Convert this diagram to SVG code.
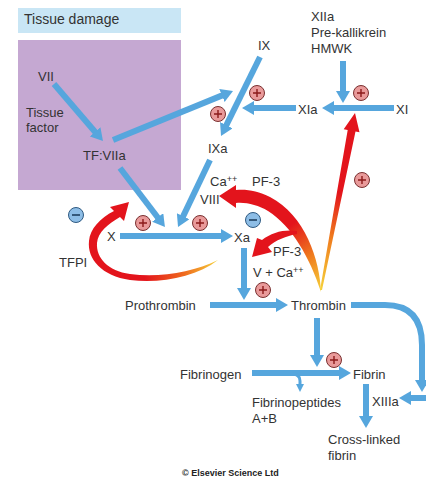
<svg xmlns="http://www.w3.org/2000/svg" width="426" height="477" viewBox="0 0 426 477">
<style>
  text { font-family: "Liberation Sans", Arial, sans-serif; font-size: 13px; fill: #333; }
  .b { stroke: #56a6dd; stroke-width: 6; fill: none; marker-end: url(#ah); }
  .thin { stroke: #56a6dd; stroke-width: 3; fill: none; marker-end: url(#ahs); }
  .sup { font-size: 9px; }
</style>
<defs>
  <marker id="ah" viewBox="0 0 12 14" markerWidth="12" markerHeight="14" markerUnits="userSpaceOnUse" refX="3" refY="7" orient="auto">
    <path d="M0,0 L12,7 L0,14 z" fill="#56a6dd"/>
  </marker>
  <marker id="ahs" viewBox="0 0 8 8" markerWidth="8" markerHeight="8" markerUnits="userSpaceOnUse" refX="2" refY="4" orient="auto">
    <path d="M0,0 L8,4 L0,8 z" fill="#56a6dd"/>
  </marker>
  <linearGradient id="gTFPI" gradientUnits="userSpaceOnUse" x1="88" y1="250" x2="218" y2="262">
    <stop offset="0" stop-color="#e3141c"/>
    <stop offset="0.45" stop-color="#e3141c"/>
    <stop offset="0.75" stop-color="#ef6a1e"/>
    <stop offset="1" stop-color="#f6d23a"/>
  </linearGradient>
  <linearGradient id="gVIII" gradientUnits="userSpaceOnUse" x1="321" y1="292" x2="250" y2="196">
    <stop offset="0" stop-color="#f6d23a"/>
    <stop offset="0.3" stop-color="#ef7a1e"/>
    <stop offset="0.6" stop-color="#e3141c"/>
    <stop offset="1" stop-color="#e3141c"/>
  </linearGradient>
  <linearGradient id="gXI" gradientUnits="userSpaceOnUse" x1="321" y1="290" x2="355" y2="113">
    <stop offset="0" stop-color="#f6d23a"/>
    <stop offset="0.3" stop-color="#ef7a1e"/>
    <stop offset="0.55" stop-color="#e3141c"/>
    <stop offset="1" stop-color="#e3141c"/>
  </linearGradient>
  <g id="pl">
    <circle r="7.5" fill="#e99a9a" stroke="#7a3030" stroke-width="1"/>
    <path d="M-4,0 H4 M0,-4 V4" stroke="#8b1a1a" stroke-width="1.4" fill="none"/>
  </g>
  <g id="mi">
    <circle r="7.5" fill="#8dbde6" stroke="#2f5a82" stroke-width="1"/>
    <path d="M-4,0 H4" stroke="#1f3f60" stroke-width="1.6" fill="none"/>
  </g>
</defs>

<g id="tissue-damage">
  <rect x="18" y="8" width="163" height="25" fill="#c9e6f5"/>
  <text x="24" y="24" style="font-size:14px">Tissue damage</text>
</g>
<g id="tissue-box">
  <rect x="18" y="40" width="163" height="150" fill="#c5a8d2"/>
</g>

<g id="connectors">
  <line class="b" x1="54" y1="84" x2="97.1" y2="134.2"/>
  <line class="b" x1="113" y1="140" x2="224.7" y2="94.4"/>
  <line class="b" x1="260" y1="57" x2="225" y2="127.9"/>
  <line class="b" x1="296" y1="108" x2="251" y2="108"/>
  <line class="b" x1="394" y1="108" x2="331" y2="108"/>
  <line class="b" x1="343" y1="61" x2="343" y2="94"/>
  <line class="b" x1="120" y1="168" x2="159.5" y2="219.8"/>
  <line class="b" x1="210" y1="160" x2="181.9" y2="218.9"/>
  <line class="b" x1="120" y1="236" x2="224" y2="236"/>
  <line class="b" x1="244" y1="248" x2="244" y2="291"/>
  <line class="b" x1="210" y1="305" x2="279" y2="305"/>
  <path class="b" d="M351,305 H385 Q422,305 422,345 V383"/>
  <line class="b" x1="430" y1="398" x2="408" y2="398"/>
  <line class="b" x1="317" y1="318" x2="317" y2="358"/>
  <line class="b" x1="252" y1="373" x2="342" y2="373"/>
  <line class="b" x1="366" y1="384" x2="366" y2="419"/>
  <path class="thin" d="M292,374 Q300,374 300,381 V386"/>

  <path d="M218,260 C196,277 160,284 130,280 C102,276 87,259 89,241 C90,229 100,218 114,211 L110,207 L129,202 L124,221 L120,217 C108,224 98,232 97,243 C96,258 108,271 130,274 C160,278 193,272 218,260 Z" fill="url(#gTFPI)"/>
  <path d="M321,292 C320,260 305,215 270,197 C258,191 247,189 236,190 L236,185 L219,196 L236,208 L236,203 C246,202 258,205 268,211 C292,226 310,258 321,292 Z" fill="url(#gVIII)"/>
  <path d="M320,290 L347.7,130 L343.7,129.2 L355,113 L359.5,132.2 L355.5,131.5 L322,290 Z" fill="url(#gXI)"/>
  <path d="M297,231 C285,229 272,232 262,240 L257,238 L252,257 L272,252 L268,247 C276,240 286,236 297,234 Z" fill="#e3141c"/>
</g>

<g id="signs">
  <use href="#pl" x="218" y="114"/>
  <use href="#pl" x="257" y="93"/>
  <use href="#pl" x="361" y="93"/>
  <use href="#pl" x="362" y="180"/>
  <use href="#pl" x="143" y="223"/>
  <use href="#pl" x="200" y="223"/>
  <use href="#pl" x="263" y="290"/>
  <use href="#pl" x="334" y="360"/>
  <use href="#mi" x="76" y="215"/>
  <use href="#mi" x="253" y="220"/>
</g>

<g id="n-VII"><text x="38" y="81">VII</text></g>
<g id="n-TF"><text x="26" y="117">Tissue</text><text x="26" y="132">factor</text></g>
<g id="n-TFVIIa"><text x="83" y="160">TF:VIIa</text></g>
<g id="n-IX"><text x="258" y="50">IX</text></g>
<g id="n-IXa"><text x="208" y="153">IXa</text></g>
<g id="n-XIIa-top"><text x="311" y="21">XIIa</text><text x="311" y="37">Pre-kallikrein</text><text x="311" y="53">HMWK</text></g>
<g id="n-XIa"><text x="298" y="114">XIa</text></g>
<g id="n-XI"><text x="396" y="114">XI</text></g>
<g id="n-cofactors1"><text x="210" y="186">Ca<tspan class="sup" dy="-4">++</tspan></text><text x="252" y="186">PF-3</text><text x="200" y="204">VIII</text></g>
<g id="n-X"><text x="107" y="241">X</text></g>
<g id="n-Xa"><text x="234" y="242">Xa</text></g>
<g id="n-TFPI"><text x="59" y="267">TFPI</text></g>
<g id="n-cofactors2"><text x="273" y="256">PF-3</text><text x="253" y="277">V + Ca<tspan class="sup" dy="-4">++</tspan></text></g>
<g id="n-Prothrombin"><text x="125" y="310">Prothrombin</text></g>
<g id="n-Thrombin"><text x="291" y="310">Thrombin</text></g>
<g id="n-Fibrinogen"><text x="180" y="379">Fibrinogen</text></g>
<g id="n-Fibrin"><text x="353" y="379">Fibrin</text></g>
<g id="n-Fibrinopeptides"><text x="252" y="407">Fibrinopeptides</text><text x="252" y="423">A+B</text></g>
<g id="n-XIIIa"><text x="372" y="406">XIIIa</text></g>
<g id="n-Crosslinked"><text x="328" y="444">Cross-linked</text><text x="328" y="460">fibrin</text></g>
<g id="copyright"><text x="182" y="476" style="font-size:9px;font-weight:bold;fill:#222">© Elsevier Science Ltd</text></g>
</svg>
